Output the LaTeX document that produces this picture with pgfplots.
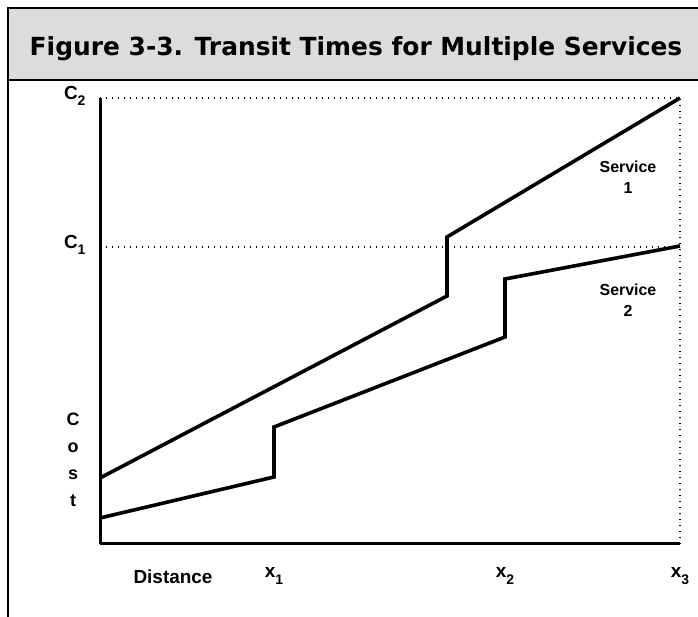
\documentclass[border=0pt]{standalone}
\usepackage{pgfplots}
\pgfplotsset{compat=1.18}
\usepackage{fontspec}
\setmainfont{Liberation Sans}
\newfontfamily\titlefont{DejaVu Sans}
\definecolor{bandgray}{RGB}{220,220,220}
\newcommand{\sub}[1]{\raisebox{-6.5bp}{\fontsize{14}{16}\selectfont\bfseries #1}}
\begin{document}
\begin{tikzpicture}[x=1bp,y=1bp]
\useasboundingbox (0,0) rectangle (698,617);
\fill[bandgray] (8,537) rectangle (700,609);
\draw[line width=2bp] (8,0) -- (8,609) -- (700,609);
\draw[line width=2bp] (8,537) -- (700,537);
\node[font=\titlefont\bfseries\fontsize{25}{30}\selectfont, anchor=base, inner sep=0pt] at (356,561) {Figure 3-3. Transit Times for Multiple Services};
\begin{axis}[
  at={(100bp,73bp)}, anchor=south west,
  x=1bp, y=1bp,
  xmin=0, xmax=580, ymin=0, ymax=446,
  axis lines=left,
  axis line style={-, line width=3bp},
  clip=false,
  major tick length=0pt,
  xtick={174,405,580},
  xticklabels={\textbf{x}\sub{1},\textbf{x}\sub{2},\textbf{x}\sub{3}},
  ytick={297,446},
  yticklabels={\textbf{C}\sub{1},\textbf{C}\sub{2}},
  xticklabel style={font=\bfseries\fontsize{19}{22}\selectfont, yshift=-20bp},
  yticklabel style={font=\bfseries\fontsize{19}{22}\selectfont, xshift=-11bp, yshift=2bp},
]
\addplot[dash pattern=on 1.4bp off 4.6bp, line width=1.2bp] coordinates {(0,446) (580,446)};
\addplot[dash pattern=on 1.4bp off 4.6bp, line width=1.2bp] coordinates {(0,297) (580,297)};
\addplot[dash pattern=on 1.4bp off 4.6bp, line width=1.2bp] coordinates {(580,0) (580,446)};
\addplot[line width=3.6bp, line join=miter] coordinates {(0,66) (347,248) (347,307) (580,446)};
\addplot[line width=3.6bp, line join=miter] coordinates {(0,26) (174,67) (174,117) (405,207) (405,265) (580,298)};
\node[font=\bfseries\fontsize{16}{21}\selectfont, align=center] at (axis cs:528,367) {Service\\1};
\node[font=\bfseries\fontsize{16}{21}\selectfont, align=center] at (axis cs:528,244) {Service\\2};
\node[font=\bfseries\fontsize{18}{27}\selectfont, align=center] at (axis cs:-27,84) {C\\o\\s\\t};
\node[font=\bfseries\fontsize{19}{22}\selectfont] at (axis cs:73,-33) {Distance};
\end{axis}
\end{tikzpicture}
\end{document}
